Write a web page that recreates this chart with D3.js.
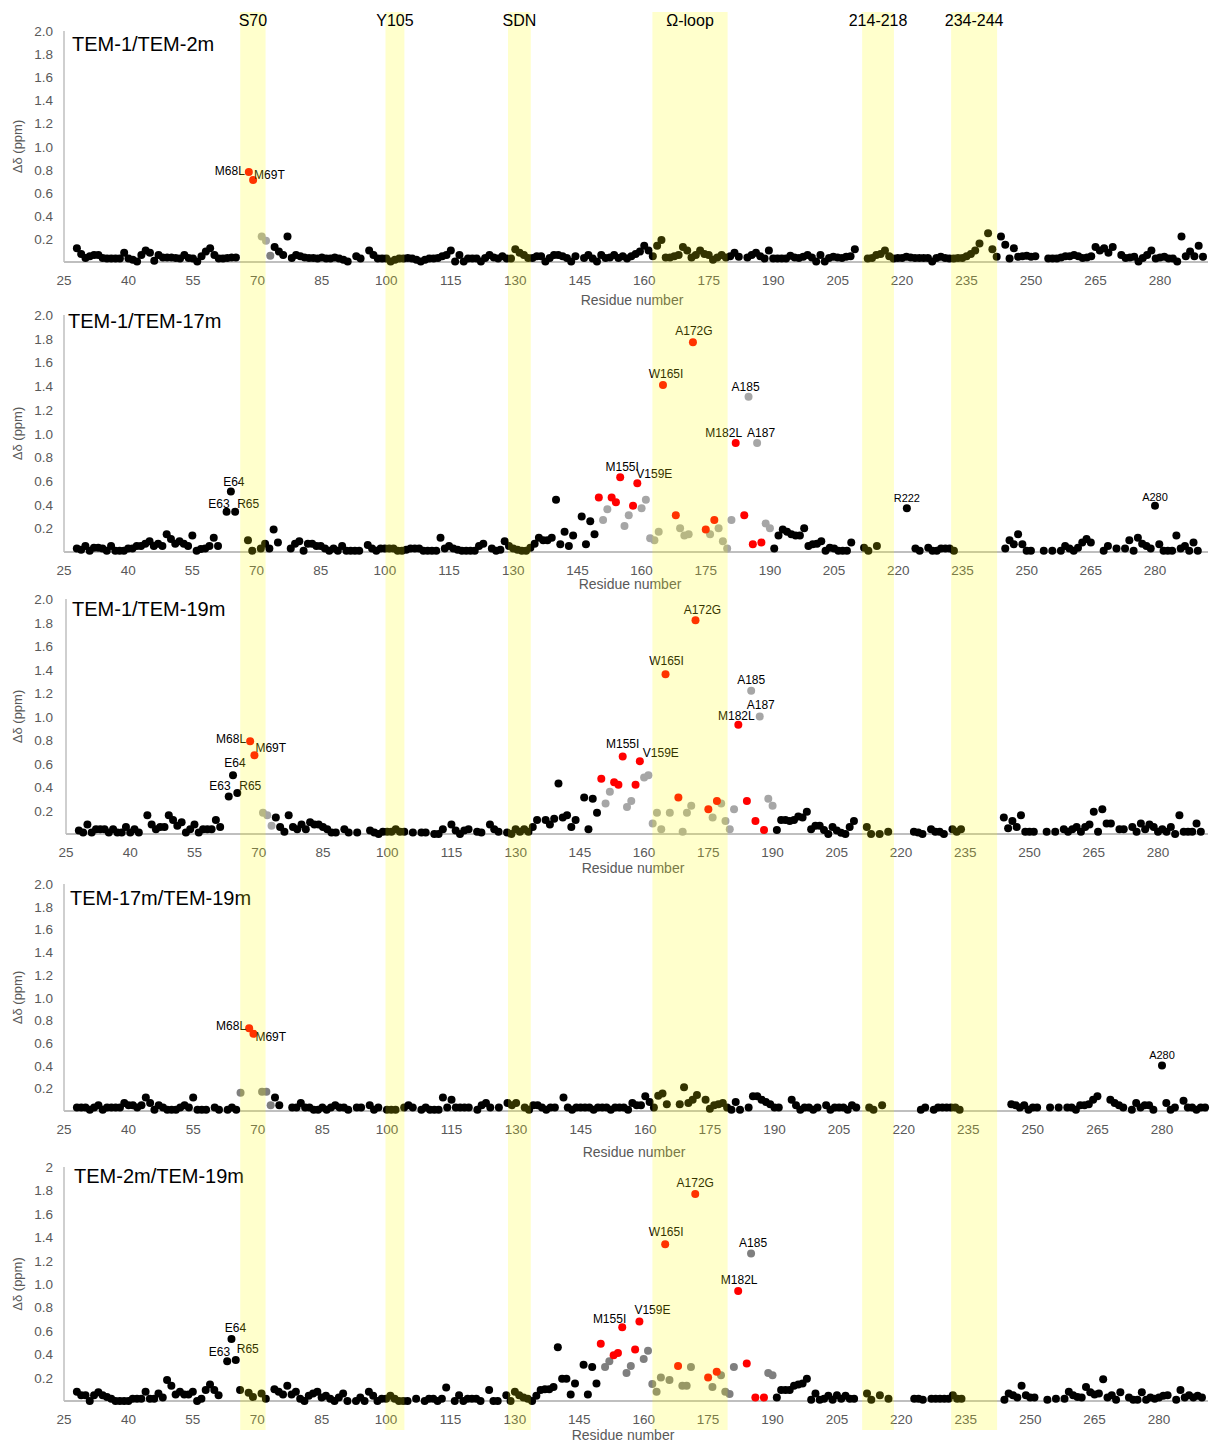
<!DOCTYPE html>
<html>
<head>
<meta charset="utf-8">
<script src="https://cdn.jsdelivr.net/npm/d3@7"></script>
<style>
  body { margin: 0; background: #fff; }
  svg { display: block; font-family: "Liberation Sans", Arial, sans-serif; }
</style>
</head>
<body>
<div id="chart"></div>
<script>
// ---- data ----
const FIRST_RESIDUE = 28;   // first value in every series is residue 28

const xTickValues = [25, 40, 55, 70, 85, 100, 115, 130, 145, 160, 175, 190, 205, 220, 235, 250, 265, 280];
const yTickValues = [0.2, 0.4, 0.6, 0.8, 1.0, 1.2, 1.4, 1.6, 1.8, 2.0];
const yTickLabels = ["0.2", "0.4", "0.6", "0.8", "1.0", "1.2", "1.4", "1.6", "1.8", "2.0"];
const yTickLabelsLast = ["0.2", "0.4", "0.6", "0.8", "1.0", "1.2", "1.4", "1.6", "1.8", "2"];

const panelTitles = ["TEM-1/TEM-2m", "TEM-1/TEM-17m", "TEM-1/TEM-19m", "TEM-17m/TEM-19m", "TEM-2m/TEM-19m"];

// shaded regions, in residue units
const bandRanges = [[66, 71.9], [99.8, 104.2], [128.3, 133.6], [161.9, 179.4], [210.7, 218.1], [231.4, 242.1]];
const bandNames = ["S70", "Y105", "SDN", "Ω-loop", "214-218", "234-244"];

// chemical shift differences (ppm), residue 28..290, null = not assigned
const shift_1_2m = [
  .12,.07,.035,.05,.06,.06,.035,.03,.03,.03,        // 28
  .03,.08,.03,.02,.005,.06,.1,.08,.01,.06,          // 38
  .04,.04,.04,.035,.03,.06,.035,.03,.005,.05,       // 48
  .09,.12,.06,.03,.03,.035,.04,.04,null,null,       // 58
  .78,.71,null,.22,.185,.055,.13,.09,.06,.22,       // 68
  .035,.06,.05,.04,.035,.035,.03,.04,.03,.03,       // 78
  .04,.03,.02,.005,null,.05,.03,null,.1,.06,        // 88
  .03,.03,.03,.005,.02,.03,.03,.035,.03,.02,        // 98
  .005,.02,.03,.03,.035,.05,.06,.1,.005,.06,        // 108
  .005,.03,.03,.03,.005,.035,.06,.04,.03,.05,       // 118
  .03,.03,.11,.08,.06,.035,.035,.05,.05,.005,       // 128
  .035,.06,.06,.05,.035,.005,.05,null,.035,.06,     // 138
  .03,.005,.06,.035,.04,.06,.035,.05,.03,.05,       // 148
  .07,.09,.14,.1,.05,.14,.19,.04,.04,.05,           // 158
  .06,.13,.1,.04,.06,.1,.07,.06,.02,.04,            // 168
  .06,.04,.05,.08,.045,null,.04,.06,.08,.05,        // 178
  .03,.1,.03,.03,.03,.03,.055,.04,.035,.045,        // 188
  .06,.04,.005,.06,.005,.035,.045,.04,.035,.045,    // 198
  .05,.11,null,null,.03,.035,.06,.07,.1,.05,        // 208
  .03,.035,.035,.045,.04,.035,.035,.035,.035,.005,  // 218
  .035,.045,.035,.03,.03,.035,.035,.05,.07,.1,      // 228
  .16,null,.25,.11,.045,.22,.15,.03,.12,.045,       // 238
  .05,.055,.045,.05,null,null,.03,.03,.03,.04,      // 248
  .05,.05,.06,.05,.035,.04,.05,.13,.1,.12,          // 258
  .08,.13,null,.06,.035,.04,.045,.005,.035,.06,     // 268
  .1,.03,.04,.045,.03,.03,.005,.22,.05,.09,         // 278
  .05,.14,.045                                      // 288
];
const shift_1_17m = [
  .03,.02,.05,.01,.035,.035,.03,.01,.05,.01,
  .01,.01,.03,.03,.05,.05,.07,.09,.05,.07,
  .05,.15,.11,.07,.09,.07,.05,.14,.01,.025,
  .03,.05,.12,.05,null,.34,.51,.34,null,null,
  .1,.01,null,.03,.07,.03,.19,.08,null,null,
  .03,.07,.09,.01,.07,.07,.05,.05,.03,.01,
  .03,.01,.05,.01,.01,.01,.01,null,.06,.03,
  .01,.03,.03,.03,.03,.01,.01,.02,.03,.03,
  .03,.01,.01,.01,.01,.12,.03,.05,.03,.02,
  .01,.01,.01,.01,.05,.07,null,.03,.01,.02,
  .09,.05,.03,.02,.01,.01,.035,.07,.12,.1,
  .1,.12,.44,.065,.17,.05,.14,null,.3,.065,
  .26,.15,.46,.27,.36,.46,.42,.63,.22,.31,
  .39,.58,.37,.44,.115,.1,.17,1.41,null,null,
  .31,.2,.14,.15,1.77,null,null,.19,.15,.27,
  .2,.09,.03,.27,.92,null,.31,1.31,.065,.92,
  .08,.24,.2,.03,.14,.19,.17,.15,.14,.14,
  .2,.05,.065,.07,.09,.01,.035,.03,.01,.01,
  .01,.08,null,null,.035,.01,null,.05,null,null,
  null,null,null,null,.37,null,.03,.01,null,.035,
  .01,.01,.03,.03,.03,.01,null,null,null,null,
  null,null,null,null,null,null,null,.03,.1,.065,
  .15,.065,.01,.01,null,null,.01,null,.01,null,
  .01,.05,.03,.01,.035,.08,.11,.08,null,null,
  .01,.05,null,.03,null,.03,.1,.01,.12,.07,
  .05,.03,.39,.065,.01,.01,.01,.14,.03,.05,
  .01,.08,.01
];
const shift_1_19m = [
  .03,.013,.08,.013,.04,.04,.04,.013,.04,.013,
  .013,.06,.013,.04,.013,null,.16,.08,.04,.06,
  .06,.16,.12,.07,.1,.013,.04,.08,.013,.04,
  .04,.04,.12,.06,null,.32,.5,.35,null,null,
  .79,.67,null,.18,.16,.07,.14,.06,.02,.16,
  .06,.04,.08,.04,.1,.08,.08,.06,.04,.013,
  .013,null,.04,.013,null,.013,null,null,.03,.013,
  0,.02,.02,.02,.04,.02,.02,null,.013,null,
  .013,.013,null,0,0,.04,null,.08,.03,0,
  .03,.04,null,.02,.013,null,.08,.04,.02,null,
  .013,0,.04,.02,.04,.02,.06,.12,null,.12,
  .08,.13,.43,.14,.16,.06,.12,null,.31,.04,
  .3,.18,.47,.26,.36,.44,.42,.66,.23,.28,
  .42,.62,.48,.5,.09,.18,.04,1.36,.18,null,
  .31,.02,.18,.24,1.82,null,null,.21,.14,.28,
  .26,.11,.04,.21,.93,null,.28,1.22,.11,1.0,
  .035,.3,.24,.035,.12,.12,.11,.12,.15,.14,
  .19,.04,.07,.07,.035,0,.06,.03,.01,0,
  .06,.11,null,null,.06,0,null,0,null,.02,
  null,null,null,null,null,.02,.013,0,null,.04,
  .02,.02,0,null,.04,.02,.04,null,null,null,
  null,null,null,null,null,null,.14,.05,.11,.06,
  .16,.02,.02,.02,null,null,.02,null,.02,null,
  .04,.02,.04,.06,.02,.06,.08,.19,.02,.21,
  .09,.09,null,.04,.04,null,.06,.02,.09,.04,
  .08,.06,.02,.04,.02,.06,0,.16,.02,.02,
  .02,.09,.02
];
const shift_17m_19m = [
  .03,.03,.03,.01,.03,.05,.01,.03,.03,.03,
  .03,.07,.05,.05,.03,.05,.12,.07,.01,.05,
  .03,.01,.01,.01,.03,.05,.03,.12,.01,.01,
  .01,null,.03,.01,null,.01,.03,.01,.16,null,
  .73,.68,null,.17,.17,.05,.12,.05,null,null,
  .03,.03,.07,.03,.03,.01,.01,.03,.01,.03,
  .05,.03,.03,.01,null,.03,.03,null,.05,.01,
  .03,null,.01,.01,.01,null,.03,.05,.03,null,
  .01,.03,.01,.01,.01,.12,.03,.1,.03,.03,
  .03,.03,null,.01,.05,.07,.03,null,.03,null,
  .07,.05,.07,null,.03,.01,.05,.05,.03,.01,
  .03,.03,null,.12,.03,.01,.03,.03,.03,.03,
  .01,.03,.03,.03,.01,.03,.03,.03,.01,.07,
  .05,.05,.13,.08,.03,.135,.155,.06,null,null,
  .06,.21,.07,.1,.14,null,.1,.02,.05,.06,
  .07,.03,.01,.08,.01,null,.03,.13,.13,.1,
  .08,.06,.03,.03,null,null,.1,.05,.01,.03,
  .03,.01,.03,null,.05,.01,.03,.03,.03,.01,
  .05,.03,null,null,.03,.01,null,.05,null,null,
  null,null,null,null,null,null,.01,.03,null,.01,
  .03,.03,.03,.03,.03,.01,null,null,null,null,
  null,null,null,null,null,null,null,.06,.05,.03,
  .05,.01,.03,.03,null,null,.03,null,.03,null,
  .03,.03,.01,.05,.05,.06,.1,.13,null,null,
  .1,.07,.05,.03,null,.01,.07,.03,.05,.05,
  .01,null,.4,.07,.01,.03,null,.09,.03,.03,
  .01,.03,.03
];
const shift_2m_19m = [
  .08,.05,.05,0,.05,.075,.05,.035,.02,0,
  0,0,0,.02,.02,.02,.08,.02,.02,.065,
  .03,.18,.13,.055,.08,.055,.055,.08,0,.02,
  .095,.14,.095,.05,null,.34,.53,.35,.095,null,
  .07,.035,null,.065,.02,null,.1,.08,.055,.13,
  .055,.08,.02,0,.045,.065,.08,.03,.045,.02,
  0,.03,.065,0,null,0,.03,0,.08,.045,
  0,.02,.02,.045,.02,0,0,0,null,.02,
  null,0,.02,.02,0,.02,.115,null,0,.05,
  0,.02,.02,.02,0,null,.095,0,0,null,
  .05,0,.08,.05,.03,.02,0,.045,.095,.1,
  .1,.12,.46,.19,.19,.055,.15,null,.31,.055,
  .29,.15,.49,.29,.34,.39,.41,.63,.24,.3,
  .44,.68,.36,.43,.145,.08,.2,1.34,.18,null,
  .3,.13,.13,.29,1.77,null,null,.2,.12,.25,
  .22,.08,.06,.29,.94,null,.32,1.26,.03,null,
  .03,.24,.22,.03,.095,.095,.095,.13,.14,.15,
  .19,.01,.065,.01,.02,.045,.01,.05,.02,.045,
  .02,.02,null,null,.065,.01,null,.05,null,.02,
  null,null,null,null,null,.02,.02,.01,null,.02,
  .02,.02,.02,.02,.05,.02,.02,null,null,null,
  null,null,null,null,null,null,.01,.065,.05,.03,
  .13,.05,.03,.03,null,null,.01,null,.02,null,
  .02,.08,.05,.035,.03,.12,.075,.055,.065,.185,
  .03,.05,.01,.075,null,.03,.01,.01,.075,.01,
  .03,.02,.03,.045,.05,null,.01,.095,.03,.05,
  .03,.045,.03
];

// residue classes
const redOmega = [150, 153, 154, 155, 158, 159, 165, 168, 172, 175, 177, 182, 184, 186, 188];
const grayOmega17 = [151, 152, 156, 157, 160, 161, 162, 163, 164, 169, 170, 171, 176, 178, 179, 180, 181, 185, 187, 189, 190];
const grayOmega19 = [151, 152, 156, 157, 160, 161, 162, 163, 164, 166, 169, 170, 171, 176, 178, 179, 180, 181, 185, 187, 189, 190];
const grayOmega2m19 = [151, 152, 156, 157, 160, 161, 162, 163, 164, 166, 169, 170, 171, 176, 178, 179, 180, 181, 185, 189, 190];

// labelled residues
const labels_1_2m = [[68, "M68L"], [69, "M69T"]];
const labels_1_17m = [[63, "E63"], [64, "E64"], [65, "R65"], [155, "M155I"], [159, "V159E"], [165, "W165I"],
  [172, "A172G"], [182, "M182L"], [185, "A185"], [187, "A187"], [222, "R222"], [280, "A280"]];
const labels_1_19m = [[63, "E63"], [64, "E64"], [65, "R65"], [68, "M68L"], [69, "M69T"], [155, "M155I"], [159, "V159E"],
  [165, "W165I"], [172, "A172G"], [182, "M182L"], [185, "A185"], [187, "A187"]];
const labels_17m_19m = [[68, "M68L"], [69, "M69T"], [280, "A280"]];
const labels_2m_19m = [[63, "E63"], [64, "E64"], [65, "R65"], [155, "M155I"], [159, "V159E"], [165, "W165I"],
  [172, "A172G"], [182, "M182L"], [185, "A185"]];

const panels = [
  { title: panelTitles[0], values: shift_1_2m, red: [68, 69], gray: [71, 72], dark: [73], labels: labels_1_2m, yLabels: yTickLabels },
  { title: panelTitles[1], values: shift_1_17m, red: redOmega, gray: grayOmega17, dark: [], labels: labels_1_17m, yLabels: yTickLabels },
  { title: panelTitles[2], values: shift_1_19m, red: [68, 69].concat(redOmega), gray: [71, 72, 73].concat(grayOmega19), dark: [], labels: labels_1_19m, yLabels: yTickLabels },
  { title: panelTitles[3], values: shift_17m_19m, red: [68, 69], gray: [], dark: [66, 71, 72, 73], labels: labels_17m_19m, yLabels: yTickLabels },
  { title: panelTitles[4], values: shift_2m_19m, red: redOmega, gray: [], dark: grayOmega2m19, labels: labels_2m_19m, yLabels: yTickLabelsLast }
];

// ---- layout ----
const W = 1210, H = 1443;
const layout = [
  { top: 31, base: 262, x25: 64, x280: 1160, titleX: 72, titleY: 51, xTitleX: 632, xTitleY: 305 },
  { top: 315, base: 552, x25: 64, x280: 1155, titleX: 68, titleY: 328, xTitleX: 630, xTitleY: 589 },
  { top: 599, base: 834, x25: 66, x280: 1158, titleX: 72, titleY: 616, xTitleX: 633, xTitleY: 873 },
  { top: 884, base: 1111, x25: 64, x280: 1162, titleX: 70, titleY: 905, xTitleX: 634, xTitleY: 1157 },
  { top: 1167, base: 1401, x25: 64, x280: 1159, titleX: 74, titleY: 1183, xTitleX: 623, xTitleY: 1440 }
];

// [anchor, dx, dy (baseline from point centre), font size]
const labelPlacement = [
  { 68: ["end", -4, 3, 12], 69: ["start", 1, -1, 12] },
  { 63: ["end", 3, -4, 12], 64: ["middle", 3, -6, 12], 65: ["start", 2, -4, 12], 155: ["middle", 2, -6, 12],
    159: ["start", -1, -5, 12], 165: ["middle", 3, -7, 12], 172: ["middle", 1, -7, 12], 182: ["middle", -12, -6, 12],
    185: ["middle", -3, -6, 12], 187: ["middle", 4, -6, 12], 222: ["middle", 0, -6, 11], 280: ["middle", 0, -5, 11] },
  { 63: ["end", 2, -6, 12], 64: ["middle", 2, -8, 12], 65: ["start", 2, -3, 12], 68: ["end", -4, 2, 12], 69: ["start", 1, -3, 12],
    155: ["middle", 0, -8, 12], 159: ["start", 3, -4, 12], 165: ["middle", 1, -9, 12], 172: ["middle", 7, -6, 12],
    182: ["middle", -2, -5, 12], 185: ["middle", 0, -7, 12], 187: ["middle", 1, -8, 12] },
  { 68: ["end", -3, 2, 12], 69: ["start", 2, 7, 12], 280: ["middle", 0, -7, 11] },
  { 63: ["end", 3, -5, 12], 64: ["middle", 4, -7, 12], 65: ["start", 1, -7, 12], 155: ["end", 4, -4, 12],
    159: ["start", -5, -7, 12], 165: ["middle", 1, -8, 12], 172: ["middle", 0, -7, 12], 182: ["middle", 1, -7, 12],
    185: ["middle", 2, -7, 12] }
];

const svg = d3.select("#chart").append("svg")
  .attr("width", W)
  .attr("height", H);

const axisGray = "#bfbfbf";
const tickGray = "#595959";

panels.forEach((p, i) => {
  const L = layout[i];
  const x = d3.scaleLinear().domain([25, 280]).range([L.x25, L.x280]);
  const y = d3.scaleLinear().domain([0, 2]).range([L.base, L.top]);
  const g = svg.append("g");

  // axes
  g.append("line")
    .attr("x1", L.x25).attr("x2", L.x25)
    .attr("y1", L.top).attr("y2", L.base)
    .attr("stroke", axisGray).attr("stroke-width", 1.5);
  g.append("line")
    .attr("x1", L.x25).attr("x2", W - 2)
    .attr("y1", L.base).attr("y2", L.base)
    .attr("stroke", axisGray).attr("stroke-width", 2);

  g.selectAll(".ytick")
    .data(yTickValues)
    .enter()
    .append("text")
    .attr("x", 53)
    .attr("y", d => y(d) + 5)
    .attr("text-anchor", "end")
    .style("font-size", "13.5px")
    .style("fill", tickGray)
    .text((d, k) => p.yLabels[k]);

  g.selectAll(".xtick")
    .data(xTickValues)
    .enter()
    .append("text")
    .attr("x", d => x(d))
    .attr("y", L.base + 23)
    .attr("text-anchor", "middle")
    .style("font-size", "13.5px")
    .style("fill", tickGray)
    .text(d => d);

  g.append("text")
    .attr("x", L.xTitleX)
    .attr("y", L.xTitleY)
    .attr("text-anchor", "middle")
    .style("font-size", "14px")
    .style("fill", tickGray)
    .text("Residue number");

  g.append("text")
    .attr("transform", `translate(22,${(L.top + L.base) / 2}) rotate(-90)`)
    .attr("text-anchor", "middle")
    .style("font-size", "13px")
    .style("fill", tickGray)
    .text("Δδ (ppm)");

  // points
  const kind = r => p.red.includes(r) ? 3 : p.gray.includes(r) ? 2 : p.dark.includes(r) ? 1 : 0;
  const fillOf = ["#000000", "#7f7f7f", "#a6a6a6", "#ff0000"];
  const pts = p.values
    .map((v, k) => ({ res: FIRST_RESIDUE + k, v: v }))
    .filter(d => d.v !== null)
    .sort((a, b) => kind(a.res) - kind(b.res));

  g.selectAll("circle")
    .data(pts)
    .enter()
    .append("circle")
    .attr("cx", d => x(d.res))
    .attr("cy", d => y(d.v))
    .attr("r", 4)
    .attr("fill", d => fillOf[kind(d.res)]);

  // residue labels
  const byRes = new Map(pts.map(d => [d.res, d.v]));
  g.selectAll(".lab")
    .data(p.labels)
    .enter()
    .append("text")
    .attr("x", d => x(d[0]) + labelPlacement[i][d[0]][1])
    .attr("y", d => y(byRes.get(d[0])) + labelPlacement[i][d[0]][2])
    .attr("text-anchor", d => labelPlacement[i][d[0]][0])
    .style("font-size", d => labelPlacement[i][d[0]][3] + "px")
    .style("fill", "#000")
    .text(d => d[1]);

  g.append("text")
    .attr("x", L.titleX)
    .attr("y", L.titleY)
    .style("font-size", "20px")
    .style("fill", "#000")
    .text(p.title);
});

// shaded regions drawn over everything, like the original overlay
const xBand = d3.scaleLinear().domain([25, 280]).range([layout[0].x25, layout[0].x280]);
svg.append("g")
  .selectAll("rect")
  .data(bandRanges)
  .enter()
  .append("rect")
  .attr("x", d => xBand(d[0]))
  .attr("width", d => xBand(d[1]) - xBand(d[0]))
  .attr("y", 12)
  .attr("height", 1430 - 12)
  .attr("fill", "#ffff00")
  .attr("fill-opacity", 0.2);

svg.append("g")
  .selectAll("text")
  .data(bandRanges)
  .enter()
  .append("text")
  .attr("x", d => (xBand(d[0]) + xBand(d[1])) / 2)
  .attr("y", 26)
  .attr("text-anchor", "middle")
  .style("font-size", "16px")
  .style("fill", "#000")
  .text((d, k) => bandNames[k]);
</script>
</body>
</html>
